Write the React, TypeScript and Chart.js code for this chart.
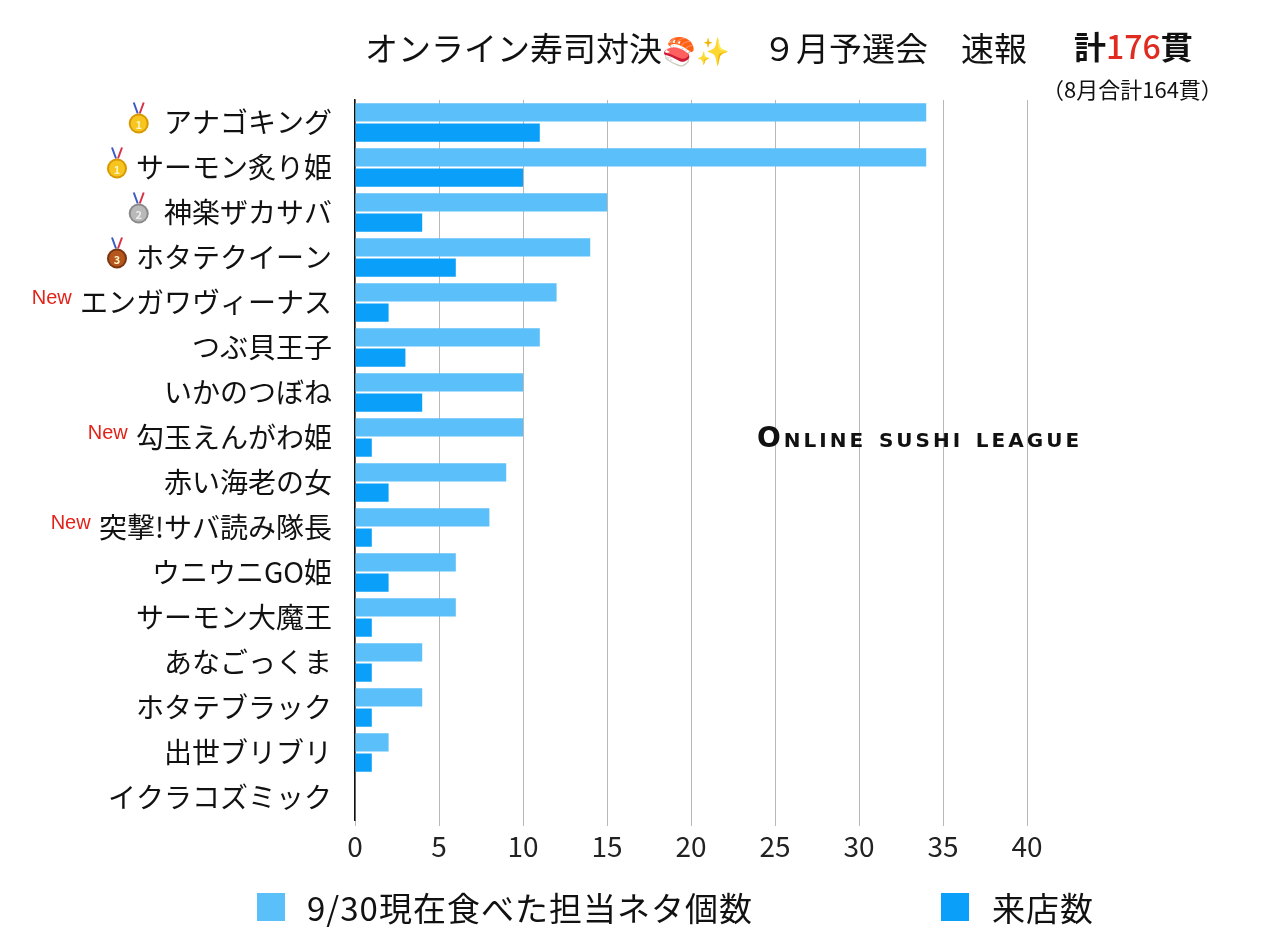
import { useEffect, useRef } from 'react'
import { Chart, registerables } from 'chart.js'
Chart.register(...registerables)

const FONT = '"Noto Sans CJK JP", "Noto Sans", sans-serif'

// players, top to bottom
const names = [
    ' アナゴキング', 'サーモン炙り姫', ' 神楽ザカサバ', 'ホタテクイーン', ' エンガワヴィーナス',
    'つぶ貝王子', 'いかのつぼね', ' 勾玉えんがわ姫', '赤い海老の女', ' 突撃!サバ読み隊長',
    'ウニウニGO姫', 'サーモン大魔王', 'あなごっくま', 'ホタテブラック', '出世ブリブリ', 'イクラコズミック',
]
// medal number or "New" in front of a name
const badges = ['1', '1', '2', '3', 'New', '', '', 'New', '', 'New', '', '', '', '', '', '']
const eaten = [34, 34, 15, 14, 12, 11, 10, 10, 9, 8, 6, 6, 4, 4, 2, 0]
const visits = [11, 10, 4, 6, 2, 3, 4, 1, 2, 1, 2, 1, 1, 1, 1, 0]
const xTicks = [0, 5, 10, 15, 20, 25, 30, 35, 40]

const LIGHT = '#5bbff9'
const DARK = '#0a9ff8'
const TICK_PAD = 23

const medalColors: Record<string, [string, string]> = {
    '1': ['#f7c520', '#d99800'],
    '2': ['#b9b9b9', '#8a8a8a'],
    '3': ['#b5561e', '#7a3510'],
}

function drawMedal(ctx: CanvasRenderingContext2D, cx: number, cy: number, n: string) {
    const [face, edge] = medalColors[n]
    ctx.lineWidth = 2
    ctx.strokeStyle = '#3b5bc4'
    ctx.beginPath(); ctx.moveTo(cx - 5, cy - 20); ctx.lineTo(cx - 1, cy - 9); ctx.stroke()
    ctx.strokeStyle = '#d8324a'
    ctx.beginPath(); ctx.moveTo(cx + 5, cy - 20); ctx.lineTo(cx + 1, cy - 9); ctx.stroke()
    ctx.fillStyle = edge
    ctx.beginPath(); ctx.arc(cx, cy + 1, 10, 0, Math.PI * 2); ctx.fill()
    ctx.fillStyle = face
    ctx.beginPath(); ctx.arc(cx, cy + 1, 8, 0, Math.PI * 2); ctx.fill()
    ctx.fillStyle = n === '2' ? '#eeeeee' : '#fff3c0'
    ctx.font = `bold 11px ${FONT}`
    ctx.textAlign = 'center'
    ctx.textBaseline = 'middle'
    ctx.fillText(n, cx, cy + 2)
}

const badgePlugin = {
    id: 'badges',
    afterDraw(chart: Chart) {
        const y = chart.scales.y
        const ctx = chart.ctx
        const right = y.right - TICK_PAD
        ctx.save()
        names.forEach((name, i) => {
            const b = badges[i]
            if (!b) return
            const cy = y.getPixelForValue(i)
            ctx.font = `28px ${FONT}`
            const left = right - ctx.measureText(name).width
            if (b === 'New') {
                ctx.font = `20px "Liberation Sans", sans-serif`
                ctx.fillStyle = '#e2231a'
                ctx.textAlign = 'right'
                ctx.textBaseline = 'middle'
                ctx.fillText('New', left - 2, cy - 4)
            } else {
                drawMedal(ctx, left - 19, cy, b)
            }
        })
        ctx.restore()
    },
}

export default function App() {
    const canvasRef = useRef<HTMLCanvasElement>(null)
    const chartRef = useRef<Chart | null>(null)

    useEffect(() => {
        if (!canvasRef.current) return
        chartRef.current?.destroy()
        chartRef.current = new Chart(canvasRef.current, {
            type: 'bar',
            data: {
                labels: names,
                datasets: [
                    { label: '9/30現在食べた担当ネタ個数', data: eaten, backgroundColor: LIGHT, barPercentage: 0.9, categoryPercentage: 0.9 },
                    { label: '来店数', data: visits, backgroundColor: DARK, barPercentage: 0.9, categoryPercentage: 0.9 },
                ],
            },
            options: {
                indexAxis: 'y',
                responsive: false,
                animation: false,
                layout: { padding: { top: 100, right: 253, left: 0, bottom: 0 } },
                plugins: { legend: { display: false }, tooltip: { enabled: false } },
                scales: {
                    x: {
                        min: 0,
                        max: 40,
                        afterBuildTicks: (s: any) => { s.ticks = xTicks.map(v => ({ value: v })) },
                        afterFit: (s: any) => { s.height = 124 },
                        grid: { color: '#b8b8b8', lineWidth: 1, tickLength: 6, drawOnChartArea: true },
                        border: { display: false },
                        ticks: { color: '#222', font: { family: FONT, size: 28 }, padding: 4 },
                    },
                    y: {
                        afterFit: (s: any) => { s.width = 355 },
                        grid: { display: false, drawTicks: false },
                        border: { display: true, color: '#111', width: 1.5 },
                        ticks: { color: '#111', font: { family: FONT, size: 28 }, padding: TICK_PAD, autoSkip: false },
                    },
                },
            },
            plugins: [badgePlugin],
        })
        return () => chartRef.current?.destroy()
    }, [])

    const abs = (left: number, top: number, extra: React.CSSProperties = {}): React.CSSProperties => ({
        position: 'absolute', left, top, whiteSpace: 'nowrap', fontFamily: FONT, color: '#111', ...extra,
    })

    return (
        <div style={{ position: 'absolute', left: 0, top: 0, width: 1280, height: 944, background: 'white', overflow: 'hidden' }}>
            <canvas ref={canvasRef} width={1280} height={944} style={{ position: 'absolute', left: 0, top: 0 }} />

            <div style={abs(365, 29, { fontSize: 33, lineHeight: '36px' })}>
                オンライン寿司対決<span style={{ fontSize: 27 }}>🍣✨</span>　９月予選会　速報
            </div>
            <div style={abs(1074, 26, { fontSize: 32, lineHeight: '38px', fontWeight: 700 })}>
                計<span style={{ color: '#e02b20', fontWeight: 500 }}>176</span>貫
            </div>
            <div style={abs(1042, 74, { fontSize: 22, lineHeight: '28px' })}>（8月合計164貫）</div>

            <div style={abs(757, 422, {
                fontFamily: '"DejaVu Sans", sans-serif', fontSize: 28, lineHeight: '32px',
                fontVariant: 'small-caps', letterSpacing: 3, fontWeight: 600,
            })}>
                Online sushi league
            </div>

            <div style={{ position: 'absolute', left: 257, top: 893, width: 28, height: 28, background: LIGHT }} />
            <div style={abs(307, 887, { fontSize: 33, lineHeight: '40px', letterSpacing: 1 })}>9/30現在食べた担当ネタ個数</div>
            <div style={{ position: 'absolute', left: 941, top: 893, width: 28, height: 28, background: DARK }} />
            <div style={abs(992, 887, { fontSize: 33, lineHeight: '40px', letterSpacing: 1 })}>来店数</div>
        </div>
    )
}
